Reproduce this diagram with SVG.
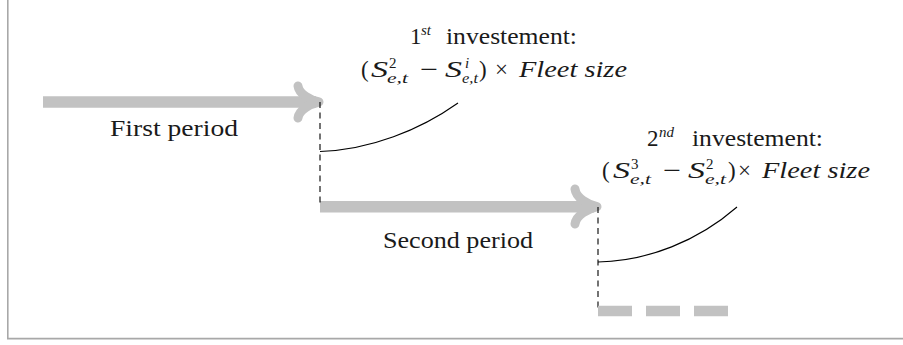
<svg xmlns="http://www.w3.org/2000/svg" width="903" height="345" viewBox="0 0 903 345">
<style>
.frame{stroke:#a8a8a8;stroke-width:1.6;fill:none}
.shaft{stroke:#c2c2c2;stroke-width:11.5;fill:none;stroke-linecap:butt}
.head{stroke:#c2c2c2;stroke-width:9;fill:none;stroke-linecap:round;stroke-linejoin:round}
.guide{stroke:#000;stroke-width:1.1;fill:none;stroke-dasharray:6 4.5}
.curve{stroke:#000;stroke-width:1.1;fill:none}
.cont{stroke:#c2c2c2;stroke-width:10.5;fill:none;stroke-dasharray:34 14}
text{font-family:"Liberation Serif","DejaVu Serif",serif;fill:#1a1a1a}
.t{font-size:23px}
.s{font-size:15px}
.i{font-style:italic}
</style>
<rect width="903" height="345" fill="#fff"/>
<path class="frame" d="M7.8,0 V338.6 H903"/>
<g id="connectors">
<path class="shaft" d="M43,102 H316"/>
<path class="head" d="M298,86 C299,94 310,100 319,102 C310,104 299,110 298,118"/>
<path class="shaft" d="M320,206.7 H594"/>
<path class="head" d="M575,189 C576,198 588,204.5 597,206.7 C588,209 576,215 575,224"/>
<path class="guide" d="M320,102 V207"/>
<path class="guide" d="M598,207 V312"/>
<path class="curve" d="M320,151.5 C370,150 420,130 458,103"/>
<path class="curve" d="M598,262 C648,261 698,241 737,207"/>
</g>
<g id="period1"><text class="t" x="110" y="136" textLength="128" lengthAdjust="spacingAndGlyphs">First period</text></g>
<g id="period2"><text class="t" x="383" y="247.5" textLength="150" lengthAdjust="spacingAndGlyphs">Second period</text></g>
<g id="invest1">
<text class="t" x="410" y="43.5">1</text>
<text class="s i" x="421" y="34.5">st</text>
<text class="t" x="446" y="43.5" textLength="131" lengthAdjust="spacingAndGlyphs">investement:</text>
<text class="t" x="361" y="77">(</text>
<text class="t i" x="371" y="77" textLength="17" lengthAdjust="spacingAndGlyphs">S</text>
<text class="s" x="389" y="67.5">2</text>
<text class="s i" x="387" y="83" textLength="21" lengthAdjust="spacingAndGlyphs">e,t</text>
<text class="t" x="420" y="77" textLength="18" lengthAdjust="spacingAndGlyphs">−</text>
<text class="t i" x="445" y="77" textLength="17" lengthAdjust="spacingAndGlyphs">S</text>
<text class="s i" x="465" y="67.5">i</text>
<text class="s i" x="462" y="83" textLength="16" lengthAdjust="spacingAndGlyphs">e,t</text>
<text class="t" x="479" y="77">)</text>
<text class="t" x="501.5" y="77" text-anchor="middle">×</text>
<text class="t i" x="519" y="77" textLength="108" lengthAdjust="spacingAndGlyphs">Fleet size</text>
</g>
<g id="invest2">
<text class="t" x="647" y="145.5">2</text>
<text class="s i" x="659" y="136.5">nd</text>
<text class="t" x="692" y="145.5" textLength="131" lengthAdjust="spacingAndGlyphs">investement:</text>
<text class="t" x="602" y="178">(</text>
<text class="t i" x="613" y="178" textLength="17" lengthAdjust="spacingAndGlyphs">S</text>
<text class="s" x="631" y="168.5">3</text>
<text class="s i" x="630" y="184" textLength="21" lengthAdjust="spacingAndGlyphs">e,t</text>
<text class="t" x="663" y="178" textLength="18" lengthAdjust="spacingAndGlyphs">−</text>
<text class="t i" x="688" y="178" textLength="17" lengthAdjust="spacingAndGlyphs">S</text>
<text class="s" x="706" y="168.5">2</text>
<text class="s i" x="705" y="184" textLength="21" lengthAdjust="spacingAndGlyphs">e,t</text>
<text class="t" x="728" y="178">)</text>
<text class="t" x="744.5" y="178" text-anchor="middle">×</text>
<text class="t i" x="762" y="178" textLength="108" lengthAdjust="spacingAndGlyphs">Fleet size</text>
</g>
<g id="continuation"><path class="cont" d="M598,311 H729"/></g>
</svg>
